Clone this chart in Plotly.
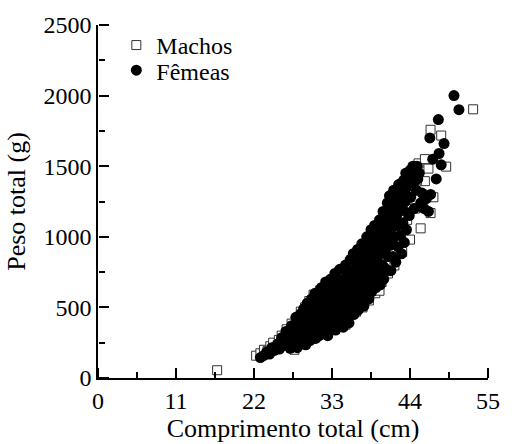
import plotly.graph_objects as go

# Machos (open squares): comprimento total (cm), peso total (g)
machos_len = [16.8, 22.3, 22.9, 23.4, 23.9, 24.3, 24.7, 25.1, 25.5, 25.9, 26.2, 26.6, 27.0, 27.3, 27.7, 28.0,
              28.3, 28.6, 28.9, 29.2, 29.5, 29.8, 30.1, 30.4, 30.7, 31.0, 31.3, 31.6, 31.9, 32.2, 32.5, 32.8,
              33.1, 33.4, 33.7, 34.0, 34.3, 34.6, 34.9, 35.2, 35.5, 35.8, 36.1, 36.4, 36.7, 37.0, 37.3, 37.6,
              37.9, 38.2, 38.5, 38.8, 39.1, 39.4, 39.7, 40.0, 40.3, 40.6, 40.9, 41.2, 41.5, 41.8, 42.1, 42.4,
              42.9, 43.2, 43.6, 44.0, 44.3, 44.7, 45.2, 45.5, 46.1, 46.1, 46.6, 46.9, 47.3, 49.1, 48.4, 46.9, 52.9,
              30.0, 31.5, 32.0, 33.0, 34.5, 35.0, 36.0, 37.5, 38.0, 39.0, 40.5, 41.0, 42.5, 43.5, 44.5, 45.0]
machos_wt = [55, 158, 175, 200, 190, 225, 250, 215, 270, 300, 240, 345, 290, 385, 200, 420,
             320, 470, 250, 500, 380, 545, 290, 590, 450, 330, 620, 520, 310, 660, 420, 560,
             700, 345, 620, 750, 400, 680, 378, 560, 820, 450, 740, 470, 880, 640, 500, 920,
             720, 549, 1000, 800, 600, 1060, 618, 680, 1120, 920, 740, 1200, 980, 797, 1260, 1050,
             893, 1340, 1120, 980, 1430, 1200, 1520, 1060, 1550, 1394, 1483, 1168, 1280, 1497, 1717, 1758, 1903,
             420, 470, 520, 600, 560, 700, 640, 760, 860, 900, 1000, 1080, 1150, 1260, 1330, 1400]

# Fêmeas (filled circles)
femeas_len = [22.9, 23.4, 23.8, 24.2, 24.5, 24.9, 25.3, 25.6, 25.9, 26.2, 26.5, 26.7,
              27.0, 27.1, 27.3, 27.6, 27.7, 27.9, 28.1, 28.2, 28.4, 28.6, 28.7, 28.8, 29.0, 29.1, 29.3, 29.4,
              29.5, 29.7, 29.8, 29.9, 30.1, 30.2, 30.3, 30.4, 30.6, 30.7, 30.8, 30.9, 31.0, 31.1, 31.2, 31.4,
              31.5, 31.6, 31.7, 31.8, 31.9, 32.0, 32.1, 32.2, 32.3, 32.4, 32.5, 32.6, 32.7, 32.8, 32.9, 33.0,
              33.1, 33.2, 33.3, 33.4, 33.5, 33.6, 33.7, 33.8, 33.9, 34.0, 34.1, 34.2, 34.3, 34.4, 34.5, 34.6,
              34.7, 34.8, 34.9, 35.0, 35.1, 35.2, 35.3, 35.4, 35.5, 35.6, 35.7, 35.8, 35.9, 36.0, 36.1, 36.2,
              36.3, 36.4, 36.5, 36.6, 36.7, 36.8, 36.9, 37.0, 37.1, 37.2, 37.3, 37.4, 37.5, 37.6, 37.7, 37.8,
              37.9, 38.0, 38.1, 38.2, 38.3, 38.4, 38.5, 38.6, 38.7, 38.8, 38.9, 39.0, 39.1, 39.2, 39.3, 39.4,
              39.5, 39.6, 39.7, 39.8, 39.9, 40.0, 40.1, 40.2, 40.3, 40.4, 40.5, 40.6, 40.7, 40.8, 40.9, 41.0,
              41.1, 41.2, 41.3, 41.4, 41.5, 41.6, 41.7, 41.8, 41.9, 42.0, 42.1, 42.2, 42.3, 42.4, 42.5, 42.6,
              42.7, 42.8, 42.9, 43.0, 43.1, 43.2, 43.3, 43.4, 43.5, 43.6, 43.7, 43.8, 44.0, 44.1, 44.2, 44.4,
              44.5, 44.7, 44.9, 45.1, 45.3, 45.5, 45.7, 46.0, 46.3, 46.6, 46.9, 47.2, 47.7, 48.1, 48.4, 48.8,
              46.8, 48.0, 50.2, 50.9, 45.0, 44.6, 43.9,
              29.2, 29.6, 30.0, 30.5, 30.9, 31.3, 31.7, 32.1, 32.5, 32.9, 33.3, 33.7, 34.1, 34.5, 34.9, 35.3,
              35.7, 36.1, 36.5, 36.9, 37.3, 37.7, 38.1, 38.5, 38.9, 39.3, 39.7, 40.1, 40.5, 40.9, 41.3, 41.7, 42.1,
              28.4, 28.9, 29.4, 29.9, 30.4, 30.9, 31.4, 31.9, 32.4, 32.9, 33.4, 33.9, 34.4, 34.9, 35.4, 35.9,
              36.4, 36.9, 37.4, 37.9, 38.4, 38.9, 39.4, 39.9, 40.4, 40.9, 41.4,
              36.2, 36.8, 37.4, 38.0, 38.6, 39.2, 39.8, 40.4, 41.0, 41.6, 42.2, 42.8, 43.4, 37.0, 38.3, 39.5,
              40.7, 41.9, 43.1, 44.2]
femeas_wt = [145, 160, 185, 170, 215, 195, 240, 205, 285, 230, 330, 260,
             300, 210, 370, 250, 330, 430, 215, 290, 380, 455, 260, 330, 490, 410, 235, 360,
             530, 300, 440, 265, 560, 390, 470, 330, 600, 280, 420, 510, 360, 580, 300, 470,
             640, 400, 540, 330, 600, 470, 680, 380, 560, 300, 630, 440, 510, 700, 360, 590,
             420, 660, 500, 740, 340, 560, 620, 450, 700, 390, 770, 530, 640, 470, 590, 360,
             700, 520, 800, 430, 620, 760, 560, 390, 680, 840, 490, 610, 730, 880, 450, 650,
             780, 540, 700, 910, 480, 620, 840, 720, 560, 950, 660, 800, 510, 890, 740, 620,
             1000, 840, 680, 560, 920, 760, 1050, 610, 860, 980, 700, 1080, 800, 640, 930, 1010,
             740, 880, 1120, 660, 960, 1040, 800, 1180, 700, 900, 1100, 1000, 760, 1240, 860, 1150,
             1290, 940, 760, 1060, 1200, 860, 1330, 1000, 1130, 820, 1260, 1080, 930, 1370, 1180, 1010,
             1300, 880, 1210, 1100, 1400, 960, 1250, 1340, 1050, 1430, 1170, 1390, 1470, 1280, 1420, 1500,
             1380, 1460, 1330, 1410, 1450, 1240, 1310, 1200, 1270, 1180, 1300, 1550, 1410, 1590, 1510, 1660,
             1700, 1830, 2000, 1900, 1500, 1200, 1150,
             400, 380, 500, 430, 460, 540, 480, 560, 520, 630, 580, 530, 680, 650, 600, 700,
             660, 590, 760, 730, 840, 700, 790, 880, 820, 860, 990, 930, 960, 1060, 1100, 1090, 1150,
             330, 300, 450, 360, 400, 560, 390, 450, 490, 470, 580, 510, 560, 640, 600, 530,
             650, 580, 710, 790, 680, 760, 850, 800, 780, 940, 980,
             720, 800, 860, 930, 950, 1000, 1080, 1130, 1230, 1250, 1320, 1380, 1450, 880, 1000, 1050,
             1180, 1180, 1330, 1400]

x_ticks = [0, 11, 22, 33, 44, 55]
x_minor = [5.5, 16.5, 27.5, 38.5, 49.5]
y_ticks = [0, 500, 1000, 1500, 2000, 2500]
y_minor = [250, 750, 1250, 1750, 2250]

font = "Liberation Serif, Times New Roman, serif"
X_RANGE = [0, 55]
Y_RANGE = [0, 2500]

fig = go.Figure()
fig.add_trace(go.Scatter(
    x=machos_len, y=machos_wt, mode="markers", name="Machos", legend="legend",
    marker=dict(symbol="square", size=9, color="white", line=dict(color="#333333", width=1)),
))
fig.add_trace(go.Scatter(
    x=femeas_len, y=femeas_wt, mode="markers", name="Fêmeas", legend="legend2",
    marker=dict(symbol="circle", size=11, color="black", line=dict(width=0)),
))
# empty traces hosting the tick-mark axes (ticks point into the plot area)
fig.add_trace(go.Scatter(x=[], y=[], xaxis="x2", yaxis="y2", showlegend=False, hoverinfo="skip"))
fig.add_trace(go.Scatter(x=[], y=[], xaxis="x3", yaxis="y3", showlegend=False, hoverinfo="skip"))


def tick_axis(rng, vals, length, overlay, side):
    return dict(
        range=rng, overlaying=overlay, anchor="free", position=0, side=side,
        tickmode="array", tickvals=vals, showticklabels=False,
        showline=False, showgrid=False, zeroline=False,
        ticks="outside", ticklen=length, tickwidth=1.5, tickcolor="black",
    )


fig.update_layout(
    xaxis=dict(
        range=X_RANGE, tickmode="array", tickvals=x_ticks, ticktext=[str(v) for v in x_ticks],
        showline=True, linecolor="black", linewidth=1.5, showgrid=False, zeroline=False,
        ticks="", tickfont=dict(family=font, size=24, color="black"),
        title=dict(text="Comprimento total (cm)", font=dict(family=font, size=26, color="black"), standoff=0),
    ),
    yaxis=dict(
        range=Y_RANGE, tickmode="array", tickvals=y_ticks, ticktext=[str(v) for v in y_ticks],
        showline=True, linecolor="black", linewidth=1.5, showgrid=False, zeroline=False,
        ticks="", tickfont=dict(family=font, size=24, color="black"),
        title=dict(text="Peso total (g)", font=dict(family=font, size=26, color="black"), standoff=10),
    ),
    xaxis2=tick_axis(X_RANGE, x_ticks, 10, "x", "top"),
    yaxis2=tick_axis(Y_RANGE, y_ticks, 10, "y", "right"),
    xaxis3=tick_axis(X_RANGE, x_minor, 6, "x", "top"),
    yaxis3=tick_axis(Y_RANGE, y_minor, 6, "y", "right"),
    width=512, height=444,
    margin=dict(l=98, r=14, t=19, b=61),
    paper_bgcolor="white", plot_bgcolor="white",
    font=dict(family=font, color="black"),
    showlegend=True,
    legend=dict(
        x=0.047, y=0.942, xanchor="left", yanchor="middle",
        font=dict(family=font, size=24, color="black"),
        bgcolor="rgba(0,0,0,0)", itemwidth=30,
    ),
    legend2=dict(
        x=0.047, y=0.871, xanchor="left", yanchor="middle",
        font=dict(family=font, size=24, color="black"),
        bgcolor="rgba(0,0,0,0)", itemwidth=30,
    ),
)

fig.write_html("out.html")
